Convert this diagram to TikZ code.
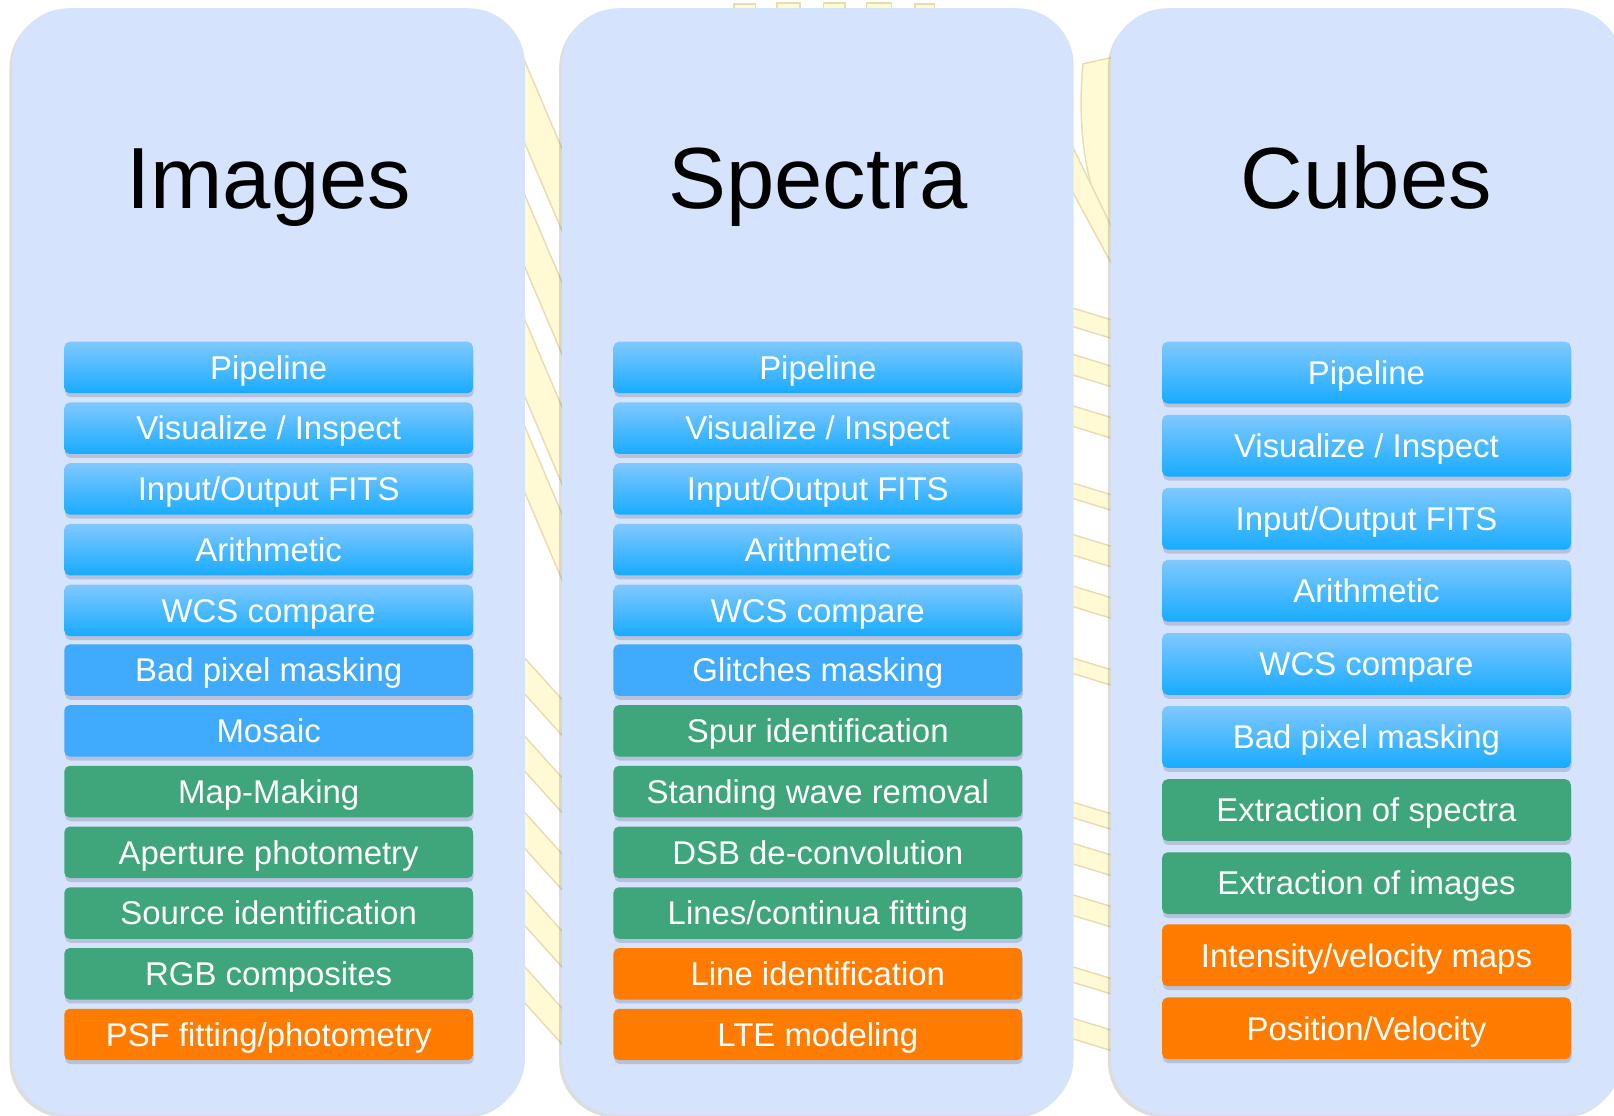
\documentclass[tikz,border=0pt]{standalone}
\usepackage{fontspec}
\setmainfont{Liberation Sans}
\usetikzlibrary{shadows}
\definecolor{panelblue}{RGB}{214,227,252}
\definecolor{coretop}{RGB}{128,200,255}
\definecolor{corebot}{RGB}{24,171,255}
\definecolor{coreflat}{RGB}{64,170,252}
\definecolor{sciencegreen}{RGB}{62,166,122}
\definecolor{expertorange}{RGB}{255,124,0}
\definecolor{logofill}{RGB}{255,249,212}
\definecolor{logoline}{RGB}{233,219,178}
\definecolor{shadowblue}{RGB}{110,120,150}
\def\rayband(#1)(#2)(#3)(#4){\draw[rayband] (#1) -- (#2) -- (#3) -- (#4) -- cycle;}
\tikzset{
	panel/.style={fill=panelblue, rounded corners=0.55cm, drop shadow={shadow xshift=-0.8pt, shadow yshift=-0.8pt, opacity=0.22, fill=black!60}},
	heading/.style={anchor=base, font=\fontsize{24}{28}\selectfont},
	task/.style={rounded corners=1.5pt, minimum width=3.97cm, minimum height=0.50cm, inner sep=0pt, text=white, font=\fontsize{9.1}{11}\selectfont, text height=0.229cm, text depth=0cm, drop shadow={shadow xshift=0.2pt, shadow yshift=-1.1pt, opacity=0.3, fill=shadowblue}},
	tall/.style={minimum height=0.60cm},
	core/.style={task, top color=coretop, bottom color=corebot},
	coreplain/.style={task, fill=coreflat},
	science/.style={task, fill=sciencegreen},
	expert/.style={task, fill=expertorange},
	rayband/.style={fill=logofill, draw=logoline, line width=0.4pt},
}
\begin{document}
\begin{tikzpicture}
		%%%%% START %%%%%
		\useasboundingbox (0, 0) rectangle (15.68, 10.84);
		\clip (0, 0) rectangle (15.68, 10.84);
		
		% faint logo behind the panels
		\begin{scope}
			\clip (5.00, 0.40) rectangle (10.90, 10.45);
			\rayband(5.05, 10.36)(5.51, 9.28)(5.51, 8.48)(5.05, 9.56)
			\rayband(5.05, 9.06)(5.51, 7.98)(5.51, 7.28)(5.05, 8.36)
			\rayband(5.05, 7.85)(5.51, 6.77)(5.51, 6.02)(5.05, 7.10)
			\rayband(5.05, 6.81)(5.51, 5.73)(5.51, 5.09)(5.05, 6.17)
			\rayband(5.05, 4.50)(5.51, 3.99)(5.51, 3.64)(5.05, 4.15)
			\rayband(5.05, 3.74)(5.51, 3.23)(5.51, 2.89)(5.05, 3.40)
			\rayband(5.05, 3.00)(5.51, 2.49)(5.51, 2.14)(5.05, 2.65)
			\rayband(5.05, 2.25)(5.51, 1.74)(5.51, 1.39)(5.05, 1.90)
			\rayband(5.05, 1.50)(5.51, 0.99)(5.51, 0.64)(5.05, 1.15)
			
			\draw[rayband] (10.84, 10.29) -- (10.52, 10.22) .. controls (10.45, 9.40) and (10.60, 8.90) .. (10.84, 8.44) -- cycle;
			\rayband(10.38, 9.50)(10.84, 8.55)(10.84, 8.20)(10.38, 9.05)
			\rayband(10.38, 7.86)(10.84, 7.72)(10.84, 7.54)(10.38, 7.68)
			\rayband(10.38, 7.41)(10.84, 7.27)(10.84, 7.07)(10.38, 7.21)
			\rayband(10.38, 6.91)(10.84, 6.77)(10.84, 6.57)(10.38, 6.71)
			\rayband(10.38, 6.16)(10.84, 6.02)(10.84, 5.87)(10.38, 6.01)
			\rayband(10.38, 5.66)(10.84, 5.52)(10.84, 5.32)(10.38, 5.46)
			\rayband(10.38, 5.16)(10.84, 5.02)(10.84, 4.82)(10.38, 4.96)
			\rayband(10.38, 4.46)(10.84, 4.32)(10.84, 4.17)(10.38, 4.31)
			\rayband(10.38, 3.06)(10.84, 2.92)(10.84, 2.77)(10.38, 2.91)
			\rayband(10.38, 2.66)(10.84, 2.52)(10.84, 2.32)(10.38, 2.46)
			\rayband(10.38, 2.16)(10.84, 2.02)(10.84, 1.82)(10.38, 1.96)
			\rayband(10.38, 1.46)(10.84, 1.32)(10.84, 1.17)(10.38, 1.31)
			\rayband(10.38, 0.96)(10.84, 0.82)(10.84, 0.62)(10.38, 0.76)
		\end{scope}
		\draw[rayband] (7.13, 10.74) rectangle (7.34, 10.80);
		\draw[rayband] (7.55, 10.74) rectangle (7.77, 10.81);
		\draw[rayband] (8.00, 10.74) rectangle (8.21, 10.81);
		\draw[rayband] (8.42, 10.74) rectangle (8.66, 10.81);
		\draw[rayband] (8.89, 10.74) rectangle (9.08, 10.80);
		
		% the three panels
		\path[panel] (0.12, 0.01) rectangle (5.10, 10.76);
		\path[panel] (5.46, 0.01) rectangle (10.43, 10.76);
		\path[panel] (10.79, 0.01) rectangle (15.76, 10.76);
		
		\node[heading] (imgtitle) at (2.61, 8.81) {Images};
		\node[heading] (spctitle) at (7.945, 8.81) {Spectra};
		\node[heading] (cubtitle) at (13.275, 8.81) {Cubes};
		
		% Images
		\node[core] (img1) at (2.61, 7.27) {Pipeline};
		\node[core] (img2) at (2.61, 6.68) {Visualize / Inspect};
		\node[core] (img3) at (2.61, 6.09) {Input/Output FITS};
		\node[core] (img4) at (2.61, 5.50) {Arithmetic};
		\node[core] (img5) at (2.61, 4.91) {WCS compare};
		\node[coreplain] (img6) at (2.61, 4.33) {Bad pixel masking};
		\node[coreplain] (img7) at (2.61, 3.74) {Mosaic};
		\node[science] (img8) at (2.61, 3.15) {Map-Making};
		\node[science] (img9) at (2.61, 2.56) {Aperture photometry};
		\node[science] (img10) at (2.61, 1.97) {Source identification};
		\node[science] (img11) at (2.61, 1.38) {RGB composites};
		\node[expert] (img12) at (2.61, 0.79) {PSF fitting/photometry};
		
		% Spectra
		\node[core] (spc1) at (7.945, 7.27) {Pipeline};
		\node[core] (spc2) at (7.945, 6.68) {Visualize / Inspect};
		\node[core] (spc3) at (7.945, 6.09) {Input/Output FITS};
		\node[core] (spc4) at (7.945, 5.50) {Arithmetic};
		\node[core] (spc5) at (7.945, 4.91) {WCS compare};
		\node[coreplain] (spc6) at (7.945, 4.33) {Glitches masking};
		\node[science] (spc7) at (7.945, 3.74) {Spur identification};
		\node[science] (spc8) at (7.945, 3.15) {Standing wave removal};
		\node[science] (spc9) at (7.945, 2.56) {DSB de-convolution};
		\node[science] (spc10) at (7.945, 1.97) {Lines/continua fitting};
		\node[expert] (spc11) at (7.945, 1.38) {Line identification};
		\node[expert] (spc12) at (7.945, 0.79) {LTE modeling};
		
		% Cubes
		\node[core, tall] (cub1) at (13.275, 7.22) {Pipeline};
		\node[core, tall] (cub2) at (13.275, 6.51) {Visualize / Inspect};
		\node[core, tall] (cub3) at (13.275, 5.80) {Input/Output FITS};
		\node[core, tall] (cub4) at (13.275, 5.10) {Arithmetic};
		\node[core, tall] (cub5) at (13.275, 4.39) {WCS compare};
		\node[core, tall] (cub6) at (13.275, 3.68) {Bad pixel masking};
		\node[science, tall] (cub7) at (13.275, 2.97) {Extraction of spectra};
		\node[science, tall] (cub8) at (13.275, 2.26) {Extraction of images};
		\node[expert, tall] (cub9) at (13.275, 1.56) {Intensity/velocity maps};
		\node[expert, tall] (cub10) at (13.275, 0.85) {Position/Velocity};
		
		%%%%% END %%%%%
	\end{tikzpicture}
\end{document}
